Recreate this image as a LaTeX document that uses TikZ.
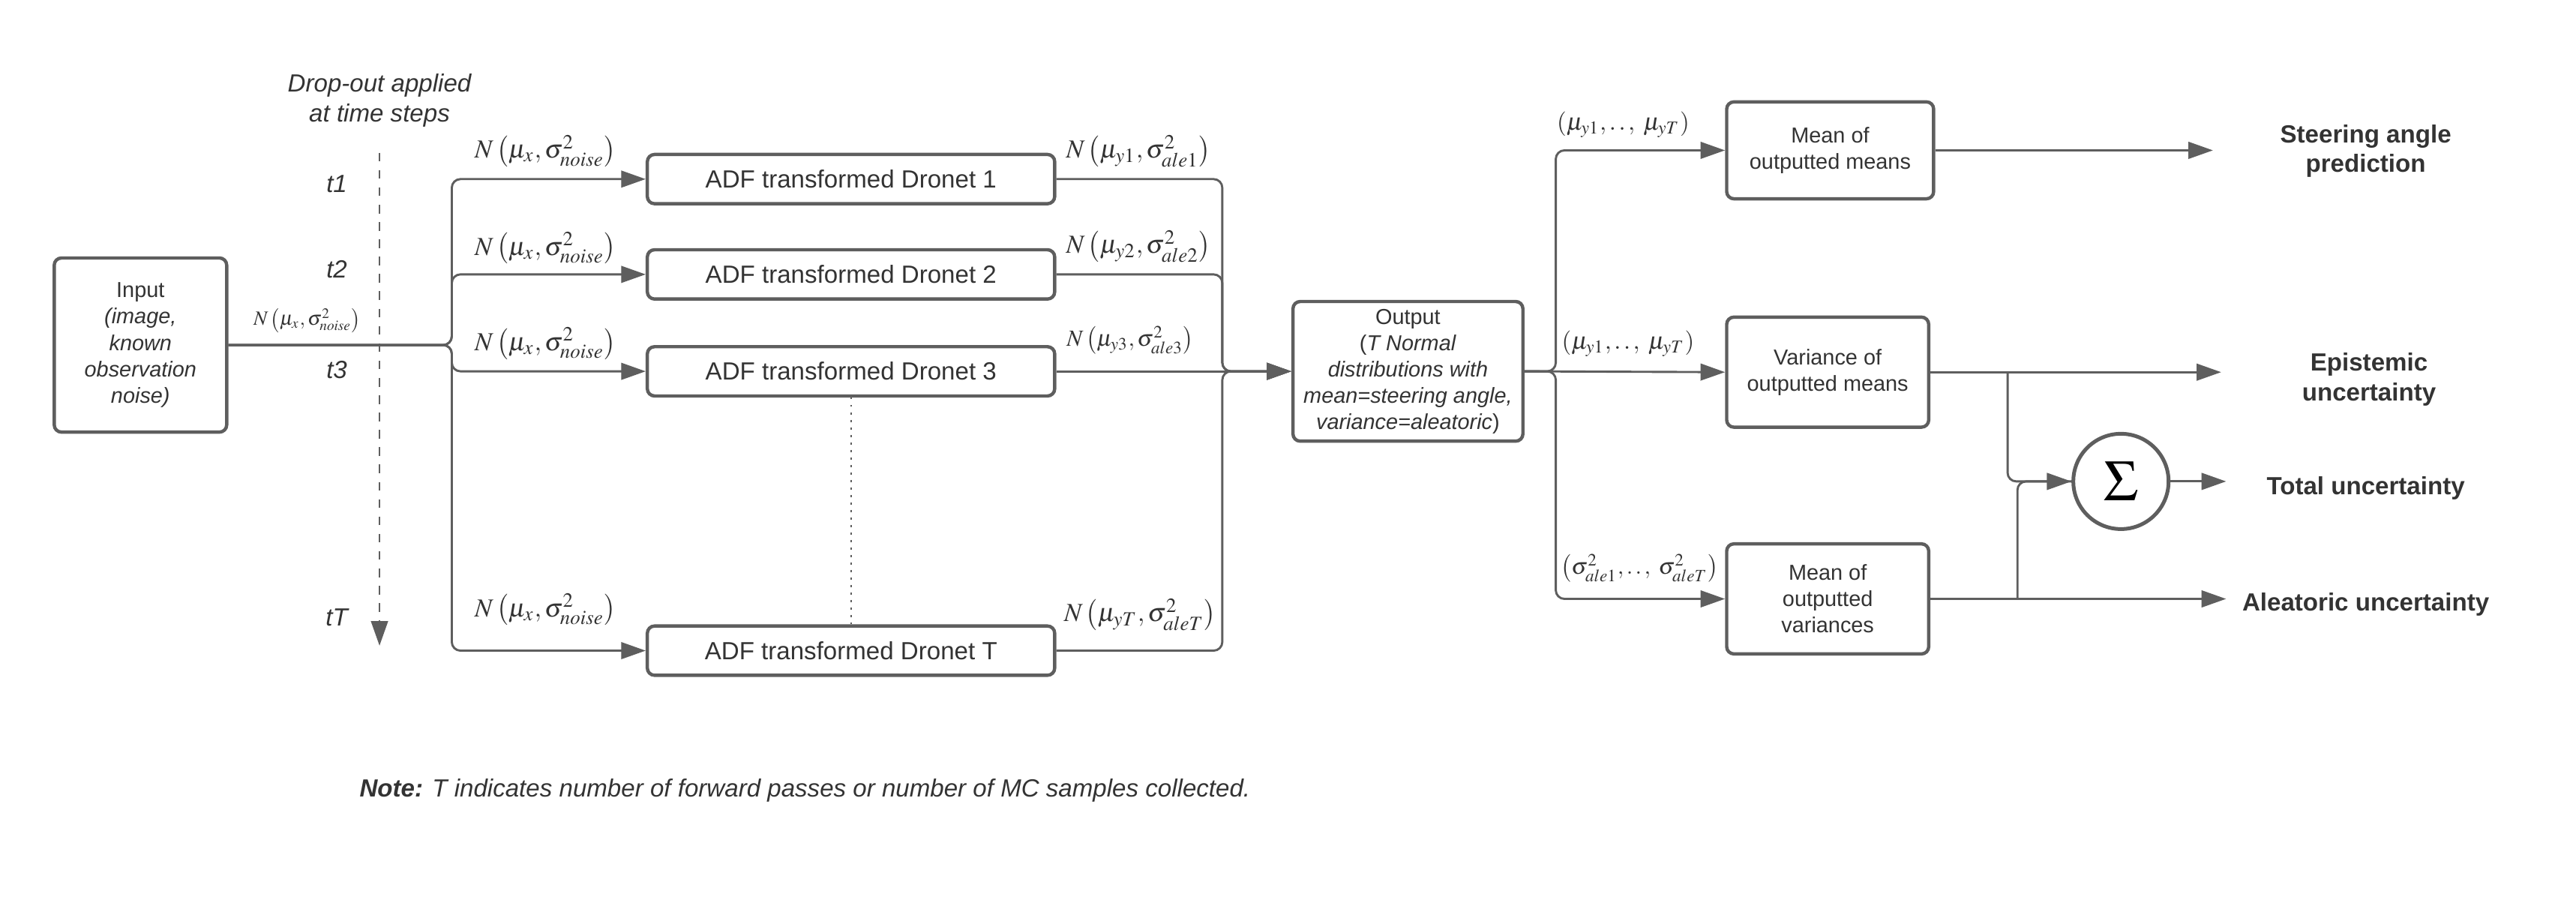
\documentclass[tikz,border=0pt]{standalone}
\usepackage{mathptmx}
\usepackage{fontspec}
\setmainfont{Liberation Sans}
\usetikzlibrary{arrows.meta}

\definecolor{linegray}{HTML}{5E5E5E}
\definecolor{txtgray}{HTML}{333333}

\tikzset{
    box/.style={draw=linegray, line width=1.15pt, rounded corners=2.5pt, fill=white,
        align=center, inner sep=1pt, text=txtgray, font=\fontsize{7.5}{9.1}\selectfont},
    dronet/.style={box, minimum width=4.96cm, minimum height=0.6cm,
        font=\fontsize{8.6}{10}\selectfont},
    conn/.style={draw=linegray, line width=0.75pt, rounded corners=3pt},
    tip/.style={-{Triangle[length=8.5pt,width=5.8pt]}},
    reslab/.style={text=txtgray, align=center, font=\fontsize{8.6}{10.3}\selectfont\bfseries},
    tlab/.style={text=txtgray, align=center, font=\fontsize{8.6}{10.3}\selectfont\itshape},
    nlab/.style={text=txtgray, inner sep=0pt, font=\fontsize{9}{10}\selectfont},
    nsmall/.style={nlab, font=\fontsize{7}{8}\selectfont}
}

\begin{document}
\begin{tikzpicture}[x=0.02cm, y=-0.02cm]
    \useasboundingbox (0,0) rectangle (1568,555);

    % time steps
    \node[tlab] (drop) at (231,61) {Drop-out applied\\at time steps};
    \coordinate (tTop) at (231,93);
    \coordinate (tBot) at (231,393);
    \draw[linegray, line width=0.75pt, dash pattern=on 3pt off 3pt, tip] (tTop) -- (tBot);
    \foreach \t/\y in {t1/112, t2/164, t3/225, tT/376}
        \node[tlab] (\t) at (205,\y) {\t};

    % input
    \node[box, minimum width=2.1cm, minimum height=2.12cm] (in) at (85.5,210)
        {Input\\\textit{(image,}\\\textit{known}\\\textit{observation}\\\textit{noise)}};
    \node[nsmall] (nin) at (187,195) {$N\left(\mu_x,\sigma^2_{noise}\right)$};

    % dronets
    \foreach \i/\y in {1/109, 2/167, 3/226, T/396}
        \node[dronet] (d\i) at (518,\y) {ADF transformed Dronet \i};
    \draw[linegray, line width=0.6pt, dotted] (d3.south) -- (dT.north);

    \coordinate (fanL) at (275,210);
    \foreach \i in {1,2,3,T}
        \draw[conn, tip] (in.east) -- (fanL) |- (d\i.west);
    \foreach \y [count=\k] in {92, 151, 209, 371}
        \node[nlab] (nx\k) at (332,\y) {$N\left(\mu_x,\sigma^2_{noise}\right)$};

    % output
    \node[box, minimum width=2.8cm, minimum height=1.7cm] (out) at (857,226)
        {Output\\(\textit{T Normal}\\\textit{distributions with}\\\textit{mean=steering angle,}\\\textit{variance=aleatoric})};

    \coordinate (fanR) at (744,226);
    \foreach \i in {1,2,T}
        \draw[conn, tip] (d\i.east) -| (fanR) -- (out.west);
    \draw[conn, tip] (d3.east) -- (out.west);

    \node[nlab] (ny1) at (693,92) {$N\left(\mu_{y1},\sigma^2_{ale1}\right)$};
    \node[nlab] (ny2) at (693,150) {$N\left(\mu_{y2},\sigma^2_{ale2}\right)$};
    \node[nlab, font=\fontsize{8}{9}\selectfont] (ny3) at (688,207) {$N\left(\mu_{y3},\sigma^2_{ale3}\right)$};
    \node[nlab] (nyT) at (694,374) {$N\left(\mu_{yT},\sigma^2_{aleT}\right)$};

    % statistics
    \node[box, minimum width=2.52cm, minimum height=1.18cm] (mm) at (1114,91.5) {Mean of\\outputted means};
    \node[box, minimum width=2.46cm, minimum height=1.34cm] (vm) at (1112.5,226.5) {Variance of\\outputted means};
    \node[box, minimum width=2.46cm, minimum height=1.34cm] (mv) at (1112.5,364.5) {Mean of\\outputted\\variances};

    \coordinate (fanO) at (947,226);
    \draw[conn, tip] (out.east) -- (fanO) |- (mm.west);
    \draw[conn, tip] (out.east) -- (vm.west);
    \draw[conn, tip] (out.east) -- (fanO) |- (mv.west);

    \node[nlab, font=\fontsize{8.5}{9}\selectfont] (m1) at (988,76) {$\left(\mu_{y1},{.}\,{.}\,,\;\mu_{yT}\right)$};
    \node[nlab, font=\fontsize{8.5}{9}\selectfont] (m2) at (991,209) {$\left(\mu_{y1},{.}\,{.}\,,\;\mu_{yT}\right)$};
    \node[nlab, font=\fontsize{8}{9}\selectfont] (s2) at (998,346) {$\left(\sigma^2_{ale1},{.}\,{.}\,,\;\sigma^2_{aleT}\right)$};

    % sum
    \node[draw=linegray, line width=1.3pt, circle, minimum size=1.16cm, inner sep=0pt] (sig) at (1291,293)
        {\fontsize{20}{20}\selectfont$\Sigma$};

    % results
    \coordinate (eSteer) at (1347,91.5);
    \coordinate (eEpi) at (1352,226.5);
    \coordinate (eTot) at (1355,293);
    \coordinate (eAle) at (1355,364.5);
    \coordinate (jE) at (1222,226.5);
    \coordinate (jA) at (1228,364.5);
    \draw[conn, tip] (mm.east) -- (eSteer);
    \draw[conn, tip] (vm.east) -- (eEpi);
    \draw[conn, tip] (sig.east) -- (eTot);
    \draw[conn, tip] (mv.east) -- (eAle);
    \draw[conn, tip] (jE) |- (sig.west);
    \draw[conn] (jA) |- (sig.west);

    \node[reslab] (steer) at (1440,92) {Steering angle\\prediction};
    \node[reslab] (epi) at (1442,231) {Epistemic\\uncertainty};
    \node[reslab] (tot) at (1440,297) {Total uncertainty};
    \node[reslab] (ale) at (1440,368) {Aleatoric uncertainty};

    % note
    \node[tlab] (note) at (490,481) {\textbf{Note:} T indicates number of forward passes or number of MC samples collected.};
\end{tikzpicture}
\end{document}
